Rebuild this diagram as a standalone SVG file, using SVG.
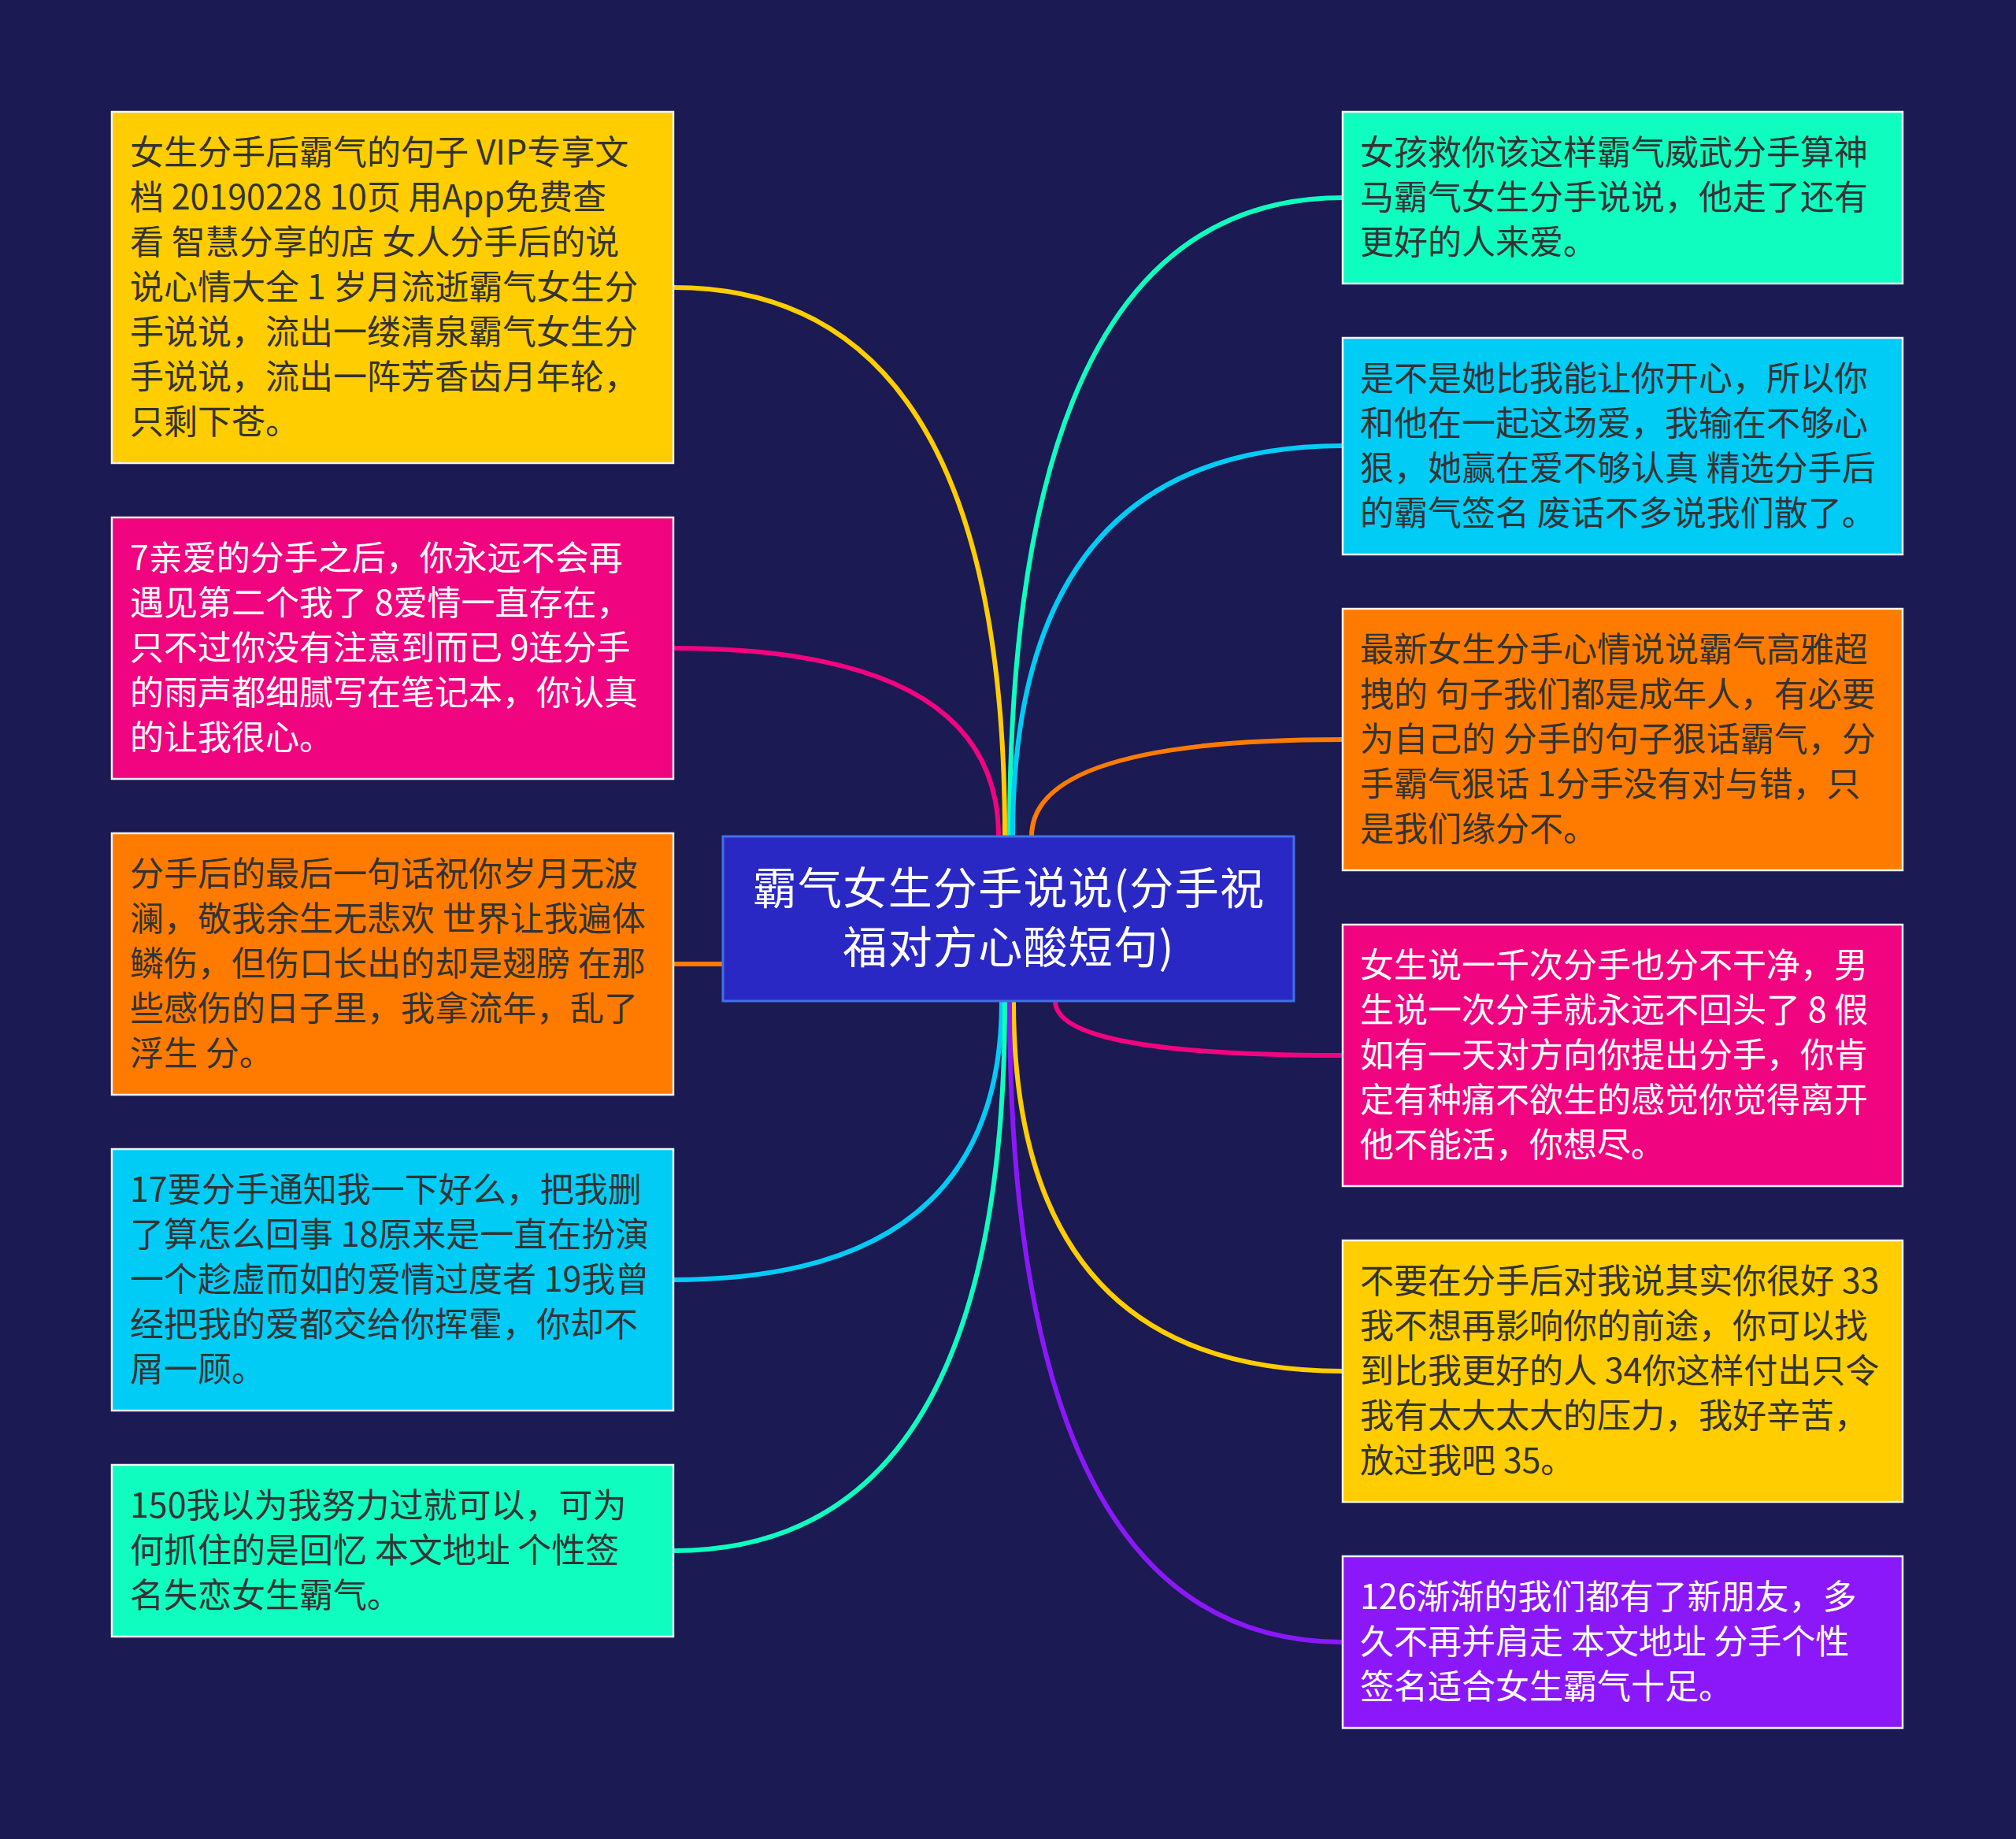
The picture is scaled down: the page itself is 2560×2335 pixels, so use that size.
<svg xmlns="http://www.w3.org/2000/svg" width="2560" height="2335" viewBox="0 0 2560 2335">
<style>
.bx{stroke:#f2f2f2;stroke-width:2.5}
.t{font-family:"Noto Sans CJK SC","Noto Sans",sans-serif;font-size:43px}
.dk{fill:#333333}
.wt{fill:#ffffff}
.c{fill:none;stroke-width:6;stroke-linecap:round}
.title{font-family:"Noto Sans CJK SC","Noto Sans",sans-serif;font-size:56px;letter-spacing:1.3px;fill:#ffffff;text-anchor:middle}
</style>
<rect x="0" y="0" width="2560" height="2335" fill="#1b1a52"/>
<g id="connectors">
<path class="c" stroke="#ffcd00" d="M855 365 Q1276 365 1276 1062"/>
<path class="c" stroke="#f0047f" d="M855 823 Q1268 823 1268 1062"/>
<path class="c" stroke="#ff7b00" d="M855 1224 L918 1224"/>
<path class="c" stroke="#00ccf5" d="M855 1625 Q1272 1625 1272 1271"/>
<path class="c" stroke="#10fdc0" d="M855 1969 Q1276 1969 1276 1271"/>
<path class="c" stroke="#10fdc0" d="M1705 251 Q1282 251 1282 1062"/>
<path class="c" stroke="#00ccf5" d="M1705 566 Q1286 566 1286 1062"/>
<path class="c" stroke="#ff7b00" d="M1705 939 Q1310 939 1310 1062"/>
<path class="c" stroke="#f0047f" d="M1705 1340 Q1340 1340 1340 1271"/>
<path class="c" stroke="#ffcd00" d="M1705 1741 Q1287 1741 1287 1271"/>
<path class="c" stroke="#8b18f8" d="M1705 2085 Q1282 2085 1282 1271"/>
</g>
<g id="center">
<rect x="918" y="1062" width="725" height="209" fill="#2a28c4" stroke="#4170e8" stroke-width="3"/>
<text class="title" x="1281" y="1148">霸气女生分手说说(分手祝</text>
<text class="title" x="1281" y="1223">福对方心酸短句)</text>
</g>
<g id="L1">
<rect class="bx" x="142" y="142" width="713" height="446" fill="#ffcd00"/>
<text class="t dk" x="165" y="209">女生分手后霸气的句子 VIP专享文</text>
<text class="t dk" x="165" y="266">档 20190228 10页 用App免费查</text>
<text class="t dk" x="165" y="323">看 智慧分享的店 女人分手后的说</text>
<text class="t dk" x="165" y="380">说心情大全 1 岁月流逝霸气女生分</text>
<text class="t dk" x="165" y="437">手说说，流出一缕清泉霸气女生分</text>
<text class="t dk" x="165" y="494">手说说，流出一阵芳香齿月年轮，</text>
<text class="t dk" x="165" y="551">只剩下苍。</text>
</g>
<g id="L2">
<rect class="bx" x="142" y="657" width="713" height="332" fill="#f0047f"/>
<text class="t wt" x="165" y="724">7亲爱的分手之后，你永远不会再</text>
<text class="t wt" x="165" y="781">遇见第二个我了 8爱情一直存在，</text>
<text class="t wt" x="165" y="838">只不过你没有注意到而已 9连分手</text>
<text class="t wt" x="165" y="895">的雨声都细腻写在笔记本，你认真</text>
<text class="t wt" x="165" y="952">的让我很心。</text>
</g>
<g id="L3">
<rect class="bx" x="142" y="1058" width="713" height="332" fill="#ff7b00"/>
<text class="t dk" x="165" y="1125">分手后的最后一句话祝你岁月无波</text>
<text class="t dk" x="165" y="1182">澜，敬我余生无悲欢 世界让我遍体</text>
<text class="t dk" x="165" y="1239">鳞伤，但伤口长出的却是翅膀 在那</text>
<text class="t dk" x="165" y="1296">些感伤的日子里，我拿流年，乱了</text>
<text class="t dk" x="165" y="1353">浮生 分。</text>
</g>
<g id="L4">
<rect class="bx" x="142" y="1459" width="713" height="332" fill="#00ccf5"/>
<text class="t dk" x="165" y="1526">17要分手通知我一下好么，把我删</text>
<text class="t dk" x="165" y="1583">了算怎么回事 18原来是一直在扮演</text>
<text class="t dk" x="165" y="1640">一个趁虚而如的爱情过度者 19我曾</text>
<text class="t dk" x="165" y="1697">经把我的爱都交给你挥霍，你却不</text>
<text class="t dk" x="165" y="1754">屑一顾。</text>
</g>
<g id="L5">
<rect class="bx" x="142" y="1860" width="713" height="218" fill="#10fdc0"/>
<text class="t dk" x="165" y="1927">150我以为我努力过就可以，可为</text>
<text class="t dk" x="165" y="1984">何抓住的是回忆 本文地址 个性签</text>
<text class="t dk" x="165" y="2041">名失恋女生霸气。</text>
</g>
<g id="R1">
<rect class="bx" x="1705" y="142" width="711" height="218" fill="#10fdc0"/>
<text class="t dk" x="1727" y="209">女孩救你该这样霸气威武分手算神</text>
<text class="t dk" x="1727" y="266">马霸气女生分手说说，他走了还有</text>
<text class="t dk" x="1727" y="323">更好的人来爱。</text>
</g>
<g id="R2">
<rect class="bx" x="1705" y="429" width="711" height="275" fill="#00ccf5"/>
<text class="t dk" x="1727" y="496">是不是她比我能让你开心，所以你</text>
<text class="t dk" x="1727" y="553">和他在一起这场爱，我输在不够心</text>
<text class="t dk" x="1727" y="610">狠，她赢在爱不够认真 精选分手后</text>
<text class="t dk" x="1727" y="667">的霸气签名 废话不多说我们散了。</text>
</g>
<g id="R3">
<rect class="bx" x="1705" y="773" width="711" height="332" fill="#ff7b00"/>
<text class="t dk" x="1727" y="840">最新女生分手心情说说霸气高雅超</text>
<text class="t dk" x="1727" y="897">拽的 句子我们都是成年人，有必要</text>
<text class="t dk" x="1727" y="954">为自己的 分手的句子狠话霸气，分</text>
<text class="t dk" x="1727" y="1011">手霸气狠话 1分手没有对与错，只</text>
<text class="t dk" x="1727" y="1068">是我们缘分不。</text>
</g>
<g id="R4">
<rect class="bx" x="1705" y="1174" width="711" height="332" fill="#f0047f"/>
<text class="t wt" x="1727" y="1241">女生说一千次分手也分不干净，男</text>
<text class="t wt" x="1727" y="1298">生说一次分手就永远不回头了 8 假</text>
<text class="t wt" x="1727" y="1355">如有一天对方向你提出分手，你肯</text>
<text class="t wt" x="1727" y="1412">定有种痛不欲生的感觉你觉得离开</text>
<text class="t wt" x="1727" y="1469">他不能活，你想尽。</text>
</g>
<g id="R5">
<rect class="bx" x="1705" y="1575" width="711" height="332" fill="#ffcd00"/>
<text class="t dk" x="1727" y="1642">不要在分手后对我说其实你很好 33</text>
<text class="t dk" x="1727" y="1699">我不想再影响你的前途，你可以找</text>
<text class="t dk" x="1727" y="1756">到比我更好的人 34你这样付出只令</text>
<text class="t dk" x="1727" y="1813">我有太大太大的压力，我好辛苦，</text>
<text class="t dk" x="1727" y="1870">放过我吧 35。</text>
</g>
<g id="R6">
<rect class="bx" x="1705" y="1976" width="711" height="218" fill="#8b18f8"/>
<text class="t wt" x="1727" y="2043">126渐渐的我们都有了新朋友，多</text>
<text class="t wt" x="1727" y="2100">久不再并肩走 本文地址 分手个性</text>
<text class="t wt" x="1727" y="2157">签名适合女生霸气十足。</text>
</g>
</svg>
